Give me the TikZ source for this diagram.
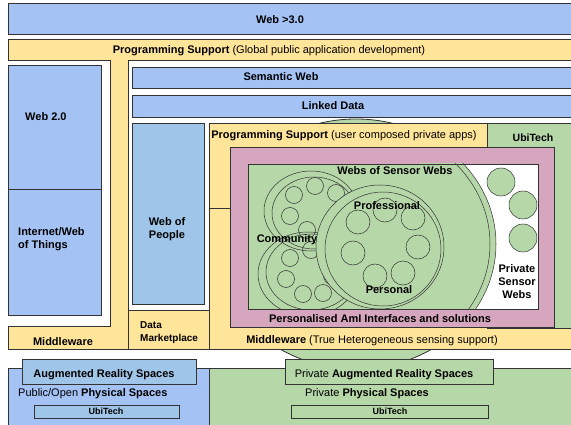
\documentclass[tikz,border=0pt]{standalone}
\usepackage{fontspec}
\setmainfont{Liberation Sans}
\usepackage{xcolor}
\usetikzlibrary{positioning}
\definecolor{webblue}{HTML}{A4C2F4}
\definecolor{peopleblue}{HTML}{9FC5E8}
\definecolor{progyellow}{HTML}{FFE599}
\definecolor{sensegreen}{HTML}{B6D7A8}
\definecolor{amipink}{HTML}{D5A6BD}
\definecolor{edge}{HTML}{333333}
\begin{document}
\begin{tikzpicture}[x=1pt,y=-1pt,
  box/.style={draw=edge,line width=0.8pt},
  ring/.style={draw=edge,line width=0.5pt},
  lbl/.style={inner sep=0pt,font=\fontsize{11}{13}\selectfont\bfseries},
  plain/.style={inner sep=0pt,font=\fontsize{11}{13}\selectfont}]
\useasboundingbox (0,0) rectangle (571,425);
\clip (0,0) rectangle (571,425);
\filldraw[box,fill=sensegreen] (356,244) ellipse [x radius=140,y radius=125];
\filldraw[box,fill=webblue] (8,3) rectangle (580,34);
\filldraw[box,fill=progyellow] (8,39) -- (580,39) -- (580,60) -- (128,60) -- (128,349)
  -- (8,349) -- (8,326) -- (110,326) -- (110,60) -- (8,60) -- cycle;
\filldraw[box,fill=webblue] (8,65) rectangle (101,189);
\filldraw[box,fill=webblue] (8,189) rectangle (101,315);
\filldraw[box,fill=webblue] (132,67) rectangle (580,88);
\filldraw[box,fill=webblue] (132,95) rectangle (580,117);
\filldraw[box,fill=peopleblue] (132,123) rectangle (204,304);
\filldraw[box,fill=progyellow] (128,310) rectangle (209,349);
\filldraw[box,fill=progyellow] (209,208) rectangle (580,349);
\filldraw[box,fill=progyellow] (209,123) rectangle (487,208);
\filldraw[box,fill=sensegreen] (487,123) rectangle (580,328);
\filldraw[box,fill=amipink] (230,147) rectangle (554,327);
\begin{scope}
\clip (248,164) rectangle (538,309);
\fill[sensegreen] (248,164) rectangle (538,309);
\begin{scope}
\clip (420,164) rectangle (538,309);
\fill[white] (420,164) rectangle (538,309);
\filldraw[ring,fill=sensegreen] (356,244) ellipse [x radius=140,y radius=125];
\draw[ring] (356,244) ellipse [x radius=134,y radius=120];
\end{scope}
\draw[ring] (311,211) ellipse [x radius=47,y radius=40];
\draw[ring] (314,213) ellipse [x radius=42,y radius=36];
\draw[ring] (308,274) ellipse [x radius=50,y radius=42];
\draw[ring] (311,272) ellipse [x radius=45,y radius=38];
\foreach \cx/\cy in {294/195,315/186,336/193,290/216,307/230,311/250,
  290/258,286/279,303/294,323/293,332/276}
  \draw[ring] (\cx,\cy) circle (8.5);
\filldraw[ring,fill=sensegreen] (380,247) ellipse [x radius=64,y radius=62];
\draw[ring] (383,249) ellipse [x radius=58,y radius=57];
\foreach \cx/\cy in {358/222,385/210,413/218,418/247,403/273,375/276,353/253}
  \draw[ring] (\cx,\cy) circle (12);
\end{scope}
\draw[box] (248,164) rectangle (538,309);
\foreach \cx/\cy in {501/182,523/205,523/238}
  \filldraw[ring,fill=sensegreen] (\cx,\cy) circle (14);
\filldraw[box,fill=webblue] (8,368) rectangle (209,430);
\filldraw[box,fill=sensegreen] (209,368) rectangle (580,430);
\filldraw[box,fill=peopleblue] (22,359) rectangle (196,384);
\filldraw[box,fill=peopleblue] (34,405) rectangle (179,418);
\filldraw[box,fill=sensegreen] (285,359) rectangle (493,384);
\filldraw[box,fill=sensegreen] (291,405) rectangle (488,418);
\node[lbl] (web3) at (280,19.5) {Web >3.0};
\node[plain] (globalps) at (269,51) {\textbf{Programming Support} (Global public application development)};
\node[lbl,anchor=west] (web2) at (25,117) {Web 2.0};
\node[lbl,anchor=west,align=left] (iot) at (18,239) {Internet/Web\\of Things};
\node[lbl] (semweb) at (281,77) {Semantic Web};
\node[lbl] (linked) at (333,106) {Linked Data};
\node[lbl,align=center] (people) at (167,229) {Web of\\People};
\node[plain] (userps) at (344,136) {\textbf{Programming Support} (user composed private apps)};
\node[lbl,font=\fontsize{10.5}{12}\selectfont\bfseries] (ubitop) at (533,138) {UbiTech};
\node[lbl] (wsw) at (395,171) {Webs of Sensor Webs};
\node[lbl] (community) at (287,240) {Community};
\node[lbl] (professional) at (387,206) {Professional};
\node[lbl] (personal) at (389,290) {Personal};
\node[lbl,align=center] (privsw) at (517,282) {Private\\Sensor\\Webs};
\node[lbl] (ami) at (380,319) {Personalised AmI Interfaces and solutions};
\node[plain] (mwtrue) at (372,341) {\textbf{Middleware} (True Heterogeneous sensing support)};
\node[lbl] (mwleft) at (63,342) {Middleware};
\node[lbl,anchor=west,align=left,font=\fontsize{10}{12.5}\selectfont\bfseries] (market) at (140,332.5) {Data\\Marketplace};
\node[lbl] (arleft) at (104,375) {Augmented Reality Spaces};
\node[plain,anchor=west] (pubphys) at (18,394) {Public/Open \textbf{Physical Spaces}};
\node[lbl,font=\fontsize{9}{11}\selectfont\bfseries] (ubileft) at (106,411.5) {UbiTech};
\node[plain] (arright) at (384,375) {Private \textbf{Augmented Reality Spaces}};
\node[plain] (privphys) at (367,394) {Private \textbf{Physical Spaces}};
\node[lbl,font=\fontsize{9}{11}\selectfont\bfseries] (ubiright) at (390,411.5) {UbiTech};
\end{tikzpicture}
\end{document}
